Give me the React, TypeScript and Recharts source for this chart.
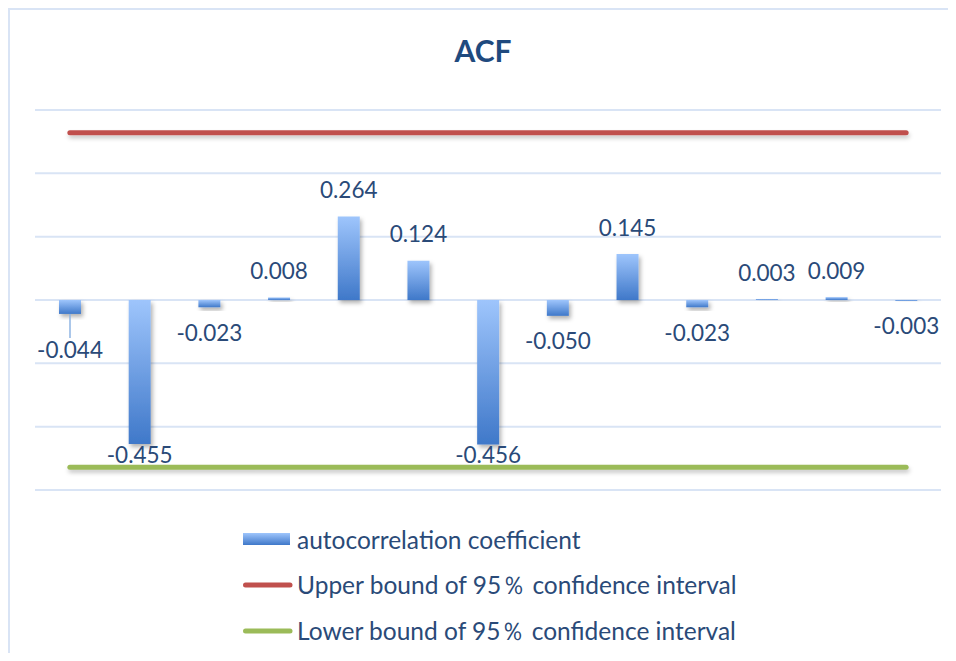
import React from "react";
import {
  ComposedChart,
  Bar,
  Line,
  XAxis,
  YAxis,
  CartesianGrid,
  Legend,
  LabelList,
  Rectangle,
} from "recharts";

const lags = [1, 2, 3, 4, 5, 6, 7, 8, 9, 10, 11, 12, 13];
const acfValues = [
  -0.044, -0.455, -0.023, 0.008, 0.264, 0.124, -0.456, -0.05, 0.145, -0.023,
  0.003, 0.009, -0.003,
];
const upperBound = [
  0.528, 0.528, 0.528, 0.528, 0.528, 0.528, 0.528, 0.528, 0.528, 0.528, 0.528,
  0.528, 0.528,
];
const lowerBound = [
  -0.528, -0.528, -0.528, -0.528, -0.528, -0.528, -0.528, -0.528, -0.528,
  -0.528, -0.528, -0.528, -0.528,
];
const yTicks = [-0.6, -0.4, -0.2, 0, 0.2, 0.4, 0.6];
const seriesNames = [
  "autocorrelation coefficient",
  "Upper bound of 95％ confidence interval",
  "Lower bound of 95％ confidence interval",
];
const chartTitle = "ACF";

const data = lags.map((lag, i) => ({
  lag,
  acf: acfValues[i],
  upper: upperBound[i],
  lower: lowerBound[i],
}));

const FONT = "Lato, 'Open Sans', sans-serif";
const TEXT_COLOR = "#2a4a78";
const RED = "#c0504d";
const GREEN = "#9bbb59";
const GRID = "#d9e4f5";

const W = 948;
const H = 645;

// manual label nudges (Excel moved label of first bar)
const labelNudge: Record<number, number> = { 0: 11 };

const renderLabel = (props: any) => {
  const { x, y, width, height, value, index } = props;
  const v = Number(value);
  const cx = Number(x) + Number(width) / 2;
  const y0 = Number(y);
  const y1 = Number(y) + Number(height);
  const top = Math.min(y0, y1);
  const bottom = Math.max(y0, y1);
  let cy: number;
  const nudge = labelNudge[index] || 0;
  if (v >= 0) {
    cy = top - 27;
  } else {
    const pxPerUnit = Math.abs(Number(height) / v);
    const lowerPix = top + 0.528 * pxPerUnit;
    cy = Math.min(bottom + 25, lowerPix - 13) + nudge;
  }
  return (
    <g key={`lbl-${index}`}>
      {nudge !== 0 && (
        <line
          x1={cx}
          x2={cx}
          y1={bottom}
          y2={cy - 12}
          stroke="#8fb4e3"
          strokeWidth={1.5}
        />
      )}
      <text
        x={cx}
        y={cy}
        textAnchor="middle"
        dominantBaseline="central"
        fontFamily={FONT}
        fontSize={22.5}
        fill={TEXT_COLOR}
      >
        {v.toFixed(3)}
      </text>
    </g>
  );
};

const BarShape = (props: any) => (
  <Rectangle {...props} fill="url(#barGrad)" filter="url(#barShadow)" />
);

const LegendBox = () => (
  <div style={{ fontFamily: FONT, fontSize: 24.5, color: TEXT_COLOR }}>
    {seriesNames.map((name, i) => (
      <div
        key={name}
        style={{
          height: 46,
          display: "flex",
          alignItems: "center",
          whiteSpace: "nowrap",
        }}
      >
        <svg width={54} height={16} style={{ display: "block" }}>
          <defs>
            <linearGradient id={`lgGrad${i}`} x1="0" y1="0" x2="0" y2="1">
              <stop offset="0%" stopColor="#9ec5fc" />
              <stop offset="100%" stopColor="#3f78c9" />
            </linearGradient>
          </defs>
          {i === 0 ? (
            <rect x={0} y={2} width={47} height={12} fill={`url(#lgGrad${i})`} />
          ) : (
            <line
              x1={2.5}
              x2={47}
              y1={8}
              y2={8}
              stroke={i === 1 ? RED : GREEN}
              strokeWidth={5}
              strokeLinecap="round"
            />
          )}
        </svg>
        <span>{name}</span>
      </div>
    ))}
  </div>
);

export default function App() {
  return (
    <div style={{ position: "relative", width: W, height: H }}>
      <div
        style={{
          position: "absolute",
          left: 0,
          top: 0,
          width: W,
          height: H + 8,
          borderTop: `2px solid ${GRID}`,
          borderLeft: `2px solid ${GRID}`,
          boxSizing: "border-box",
          pointerEvents: "none",
        }}
      />
      <div
        style={{
          position: "absolute",
          left: 0,
          top: 22,
          width: 950,
          height: 40,
          lineHeight: "40px",
          textAlign: "center",
          fontFamily: FONT,
          fontWeight: 700,
          fontSize: 30,
          color: "#1f4a7e",
        }}
      >
        {chartTitle}
      </div>
      <ComposedChart
        width={W}
        height={H}
        data={data}
        margin={{ top: 102, right: 15, bottom: 163, left: 27 }}
        barCategoryGap={0}
      >
        <defs>
          <linearGradient id="barGrad" x1="0" y1="0" x2="0" y2="1">
            <stop offset="0%" stopColor="#9ec5fc" />
            <stop offset="100%" stopColor="#3f78c9" />
          </linearGradient>
          <filter id="barShadow" x="-30%" y="-30%" width="170%" height="170%">
            <feDropShadow
              dx="2"
              dy="3"
              stdDeviation="2"
              floodColor="#000"
              floodOpacity="0.3"
            />
          </filter>
          <filter
            id="lineShadow"
            filterUnits="userSpaceOnUse"
            x="0"
            y="0"
            width={W}
            height={H}
          >
            <feDropShadow
              dx="1"
              dy="3"
              stdDeviation="2"
              floodColor="#000"
              floodOpacity="0.22"
            />
          </filter>
        </defs>
        <CartesianGrid vertical={false} stroke={GRID} strokeWidth={2} />
        <XAxis dataKey="lag" type="category" hide />
        <YAxis
          type="number"
          domain={[-0.6, 0.6]}
          ticks={yTicks}
          hide
          allowDataOverflow
        />
        <Bar
          dataKey="acf"
          name={seriesNames[0]}
          barSize={22}
          fill="url(#barGrad)"
          shape={BarShape}
          isAnimationActive={false}
        >
          <LabelList dataKey="acf" content={renderLabel} />
        </Bar>
        <Line
          dataKey="upper"
          name={seriesNames[1]}
          stroke={RED}
          strokeWidth={5}
          strokeLinecap="round"
          dot={false}
          activeDot={false}
          filter="url(#lineShadow)"
          isAnimationActive={false}
        />
        <Line
          dataKey="lower"
          name={seriesNames[2]}
          stroke={GREEN}
          strokeWidth={5}
          strokeLinecap="round"
          dot={false}
          activeDot={false}
          filter="url(#lineShadow)"
          isAnimationActive={false}
        />
        <Legend
          layout="vertical"
          align="center"
          verticalAlign="middle"
          wrapperStyle={{ position: "absolute", left: 235, top: 508, width: 690 }}
          content={() => <LegendBox />}
        />
      </ComposedChart>
    </div>
  );
}
